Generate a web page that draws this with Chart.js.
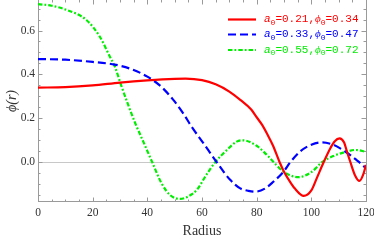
<!DOCTYPE html>
<html>
<head>
<meta charset="utf-8">
<script src="https://cdn.jsdelivr.net/npm/chart.js@4/dist/chart.umd.min.js"></script>
<style>
  html, body { margin: 0; padding: 0; background: #fff; }
  canvas { display: block; }
</style>
</head>
<body>
<canvas id="chart" width="374" height="240"></canvas>
<script>
// series (radius, phi)
const redR = [0, 10, 20, 30, 40, 50, 54, 60, 65, 70, 74, 78, 80, 82, 84, 86, 88.4, 90, 92, 94, 97.2, 100, 102, 104.5, 107, 108.5, 110.3, 112, 113, 114.3, 116, 117.6, 119, 120];
const redV = [0.340, 0.342, 0.350, 0.363, 0.373, 0.380, 0.381, 0.374, 0.355, 0.322, 0.284, 0.240, 0.205, 0.170, 0.125, 0.075, 0, -0.043, -0.085, -0.120, -0.153, -0.128, -0.072, 0, 0.065, 0.095, 0.109, 0.090, 0.050, 0, -0.060, -0.085, -0.055, -0.012];

const blueR = [0, 10, 20, 28, 34, 40, 45, 49.5, 53, 56.2, 60.5, 65.4, 70.3, 74, 77, 79.5, 83, 86, 89.8, 92.3, 96, 100, 103.9, 108, 111, 114, 116, 118, 120];
const blueV = [0.470, 0.467, 0.457, 0.445, 0.425, 0.390, 0.345, 0.284, 0.225, 0.162, 0.087, 0, -0.080, -0.119, -0.130, -0.134, -0.120, -0.090, -0.043, 0, 0.050, 0.080, 0.091, 0.080, 0.060, 0.035, 0.015, -0.005, -0.027];

const greenR = [0, 5, 10.4, 17.7, 22.6, 26.3, 28.1, 30.6, 33, 35.5, 38.3, 41.8, 45.2, 48.3, 52, 55, 58.1, 61.7, 64.8, 69.1, 72.7, 75, 80, 84, 87, 89.8, 95.3, 100, 103.9, 108, 112, 116.1, 120];
const greenV = [0.720, 0.713, 0.694, 0.648, 0.572, 0.481, 0.436, 0.344, 0.261, 0.180, 0.100, 0, -0.096, -0.149, -0.167, -0.155, -0.126, -0.055, 0, 0.056, 0.094, 0.100, 0.075, 0.030, -0.010, -0.043, -0.068, -0.045, 0, 0.028, 0.045, 0.056, 0.048];

const seriesA0 = ['0.21', '0.33', '0.55'];
const seriesPhi0 = ['0.34', '0.47', '0.72'];

const xTicks = [0, 20, 40, 60, 80, 100, 120];
const yTicks = [0.0, 0.2, 0.4, 0.6];

const serif = "'Liberation Serif', 'DejaVu Serif', serif";
const mono = "'Liberation Mono', 'DejaVu Sans Mono', monospace";

function pts(rs, vs) {
  return rs.map((r, i) => ({ x: r, y: vs[i] }));
}

// frame, zero line and inward ticks, Mathematica style
const framePlugin = {
  id: 'frame',
  beforeDatasetsDraw(chart) {
    const { ctx, chartArea: a, scales: { x, y } } = chart;
    ctx.save();
    ctx.lineWidth = 1;
    // zero line
    ctx.strokeStyle = '#c8c8c8';
    const y0 = Math.round(y.getPixelForValue(0)) + 0.5;
    ctx.beginPath();
    ctx.moveTo(a.left, y0);
    ctx.lineTo(a.right, y0);
    ctx.stroke();
    ctx.strokeStyle = '#9a9a9a';
    ctx.beginPath();
    for (let v = 0; v <= 120; v += 5) {
      const px = Math.round(x.getPixelForValue(v)) + 0.5;
      const len = v % 20 === 0 ? 4.5 : 2.5;
      ctx.moveTo(px, a.bottom);
      ctx.lineTo(px, a.bottom - len);
      ctx.moveTo(px, a.top);
      ctx.lineTo(px, a.top + len);
    }
    for (let i = -3; i <= 14; i++) {
      const v = i * 0.05;
      const py = Math.round(y.getPixelForValue(v)) + 0.5;
      if (py < a.top || py > a.bottom) continue;
      const len = i % 4 === 0 ? 4.5 : 2.5;
      ctx.moveTo(a.left, py);
      ctx.lineTo(a.left + len, py);
      ctx.moveTo(a.right, py);
      ctx.lineTo(a.right - len, py);
    }
    ctx.stroke();
    ctx.beginPath();
    ctx.rect(Math.round(a.left) + 0.5, Math.round(a.top) - 0.5, Math.round(a.right - a.left), Math.round(a.bottom - a.top));
    ctx.stroke();
    ctx.restore();
  }
};

// legend in the upper right corner, coloured text
const legendPlugin = {
  id: 'cornerLegend',
  afterDraw(chart) {
    const ctx = chart.ctx;
    const rows = [19.5, 34.5, 50];
    ctx.save();
    chart.data.datasets.forEach((ds, i) => {
      const yy = rows[i];
      ctx.strokeStyle = ds.borderColor;
      ctx.lineWidth = ds.borderWidth;
      ctx.setLineDash(ds.borderDash || []);
      ctx.beginPath();
      ctx.moveTo(228, yy);
      ctx.lineTo(256, yy);
      ctx.stroke();
      ctx.setLineDash([]);
      ctx.fillStyle = ds.borderColor;
      ctx.textBaseline = 'middle';
      let tx = 264;
      const parts = [
        ['a', 'italic 11px ' + mono, 0],
        ['0', '8px ' + mono, 3],
        ['=' + seriesA0[i] + ',', '11px ' + mono, 0],
        ['\u03d5', 'italic 11px ' + serif, 0],
        ['0', '8px ' + mono, 3],
        ['=' + seriesPhi0[i], '11px ' + mono, 0]
      ];
      parts.forEach(([t, f, dy]) => {
        ctx.font = f;
        ctx.fillText(t, tx, yy + dy);
        tx += ctx.measureText(t).width;
      });
    });
    ctx.restore();
  }
};

new Chart(document.getElementById('chart'), {
  type: 'line',
  data: {
    datasets: [
      {
        label: 'a0=0.21, phi0=0.34',
        data: pts(redR, redV),
        borderColor: '#ff0000',
        borderWidth: 2.2
      },
      {
        label: 'a0=0.33, phi0=0.47',
        data: pts(blueR, blueV),
        borderColor: '#0000ff',
        borderWidth: 2.2,
        borderDash: [8, 4]
      },
      {
        label: 'a0=0.55, phi0=0.72',
        data: pts(greenR, greenV),
        borderColor: '#00ee00',
        borderWidth: 2.2,
        borderDash: [4.5, 2, 1.8, 2]
      }
    ]
  },
  options: {
    responsive: false,
    devicePixelRatio: 1,
    animation: false,
    layout: { padding: { top: 0, right: 8, bottom: 0, left: 0 } },
    elements: {
      point: { radius: 0 },
      line: { cubicInterpolationMode: 'monotone', fill: false }
    },
    plugins: {
      legend: { display: false },
      tooltip: { enabled: false }
    },
    scales: {
      x: {
        type: 'linear',
        min: 0,
        max: 120,
        grid: { display: false, drawTicks: false },
        border: { display: false },
        ticks: { color: '#333', font: { family: serif, size: 11.5 }, padding: 4, maxRotation: 0 },
        afterBuildTicks: s => { s.ticks = xTicks.map(v => ({ value: v })); },
        afterFit: s => { s.height = 38; s.paddingLeft = 0; s.paddingRight = 0; },
        title: { display: true, text: 'Radius', color: '#333', font: { family: serif, size: 14 }, padding: { top: 0, bottom: 0 } }
      },
      y: {
        min: -0.181,
        max: 0.739,
        grid: { display: false, drawTicks: false },
        border: { display: false },
        ticks: { color: '#333', font: { family: serif, size: 11.5 }, padding: 3, callback: v => v.toFixed(1) },
        afterBuildTicks: s => { s.ticks = yTicks.map(v => ({ value: v })); },
        afterFit: s => { s.width = 38; s.paddingTop = 0; s.paddingBottom = 0; },
        title: { display: true, text: '\u03d5(r)', color: '#333', font: { family: serif, size: 14, style: 'italic' }, padding: { top: 4, bottom: 0 } }
      }
    }
  },
  plugins: [framePlugin, legendPlugin]
});
</script>
</body>
</html>
